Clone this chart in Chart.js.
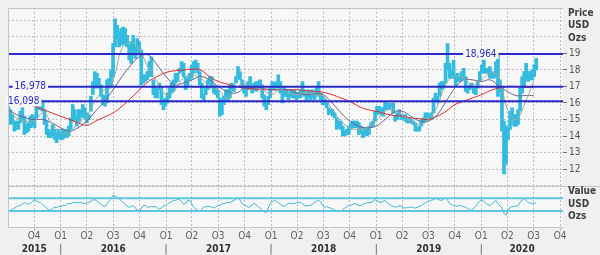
<!DOCTYPE html>
<html>
<head>
<meta charset="utf-8">
<script src="https://cdn.jsdelivr.net/npm/chart.js@4.4.0/dist/chart.umd.min.js"></script>
<style>
  html, body { margin: 0; padding: 0; background: #f0f0f0; }
  #wrap { width: 600px; height: 255px; }
</style>
</head>
<body>
<div id="wrap"><canvas id="silver" width="600" height="255"></canvas></div>
<script>
// weekly silver price, USD per ounce (week ending Friday)
const firstWeek = '2015-07-03';
const weekLow = [
  15.3, 14.7, 14.8, 14.3, 14.4, 14.4, 14.8, 15.0, 14.1, 14.2, 14.3, 14.5, 14.6,
  14.5, 15.1, 15.6, 15.6, 15.5, 14.7, 14.1, 13.9, 13.9, 14.0, 13.8, 13.6, 13.9,
  13.8, 13.8, 13.9, 13.9, 14.0, 14.4, 14.9, 15.0, 14.6, 14.8, 15.1, 15.2, 15.1,
  14.8, 15.0, 15.5, 16.5, 16.9, 17.0, 16.9, 16.4, 15.9, 15.8, 16.0, 16.9, 17.0,
  17.6, 19.4, 19.9, 19.4, 19.5, 19.6, 19.5, 19.4, 18.6, 18.4, 19.0, 18.7, 19.1,
  18.9, 17.1, 17.2, 17.3, 17.4, 17.6, 17.6, 16.5, 16.3, 16.3, 16.8, 15.9, 15.6,
  15.8, 16.0, 16.3, 16.6, 16.7, 17.2, 17.3, 17.8, 17.9, 17.6, 16.8, 17.0, 17.4,
  17.5, 17.8, 18.0, 17.8, 17.1, 16.3, 16.1, 16.5, 16.8, 17.2, 16.9, 16.6, 16.5,
  16.3, 15.2, 15.3, 15.9, 16.3, 16.1, 16.3, 16.8, 16.7, 17.2, 17.5, 17.4, 16.9,
  16.6, 16.4, 16.8, 16.9, 16.6, 16.8, 16.7, 16.9, 17.0, 16.3, 15.8, 15.6, 15.9,
  16.3, 16.9, 16.8, 16.9, 17.1, 16.6, 16.0, 16.4, 16.4, 16.2, 16.4, 16.3, 16.3,
  16.2, 16.3, 16.3, 16.6, 16.4, 16.1, 16.3, 16.2, 16.3, 16.2, 16.4, 16.5, 16.2,
  15.9, 15.9, 15.7, 15.3, 15.4, 15.2, 15.1, 14.4, 14.5, 14.4, 14.0, 14.0, 14.1,
  14.1, 14.4, 14.5, 14.5, 14.5, 14.1, 14.2, 13.9, 14.1, 14.0, 14.1, 14.5, 14.6,
  14.9, 15.3, 15.5, 15.3, 15.2, 15.6, 15.7, 15.6, 15.8, 15.4, 14.9, 15.0, 15.3,
  15.0, 15.0, 14.9, 14.8, 14.8, 14.8, 14.7, 14.3, 14.3, 14.3, 14.6, 14.8, 14.9,
  15.1, 15.0, 15.1, 15.4, 16.1, 16.0, 16.4, 16.8, 16.9, 17.2, 18.0, 17.5, 17.5,
  17.5, 17.0, 17.3, 17.3, 17.4, 17.5, 16.7, 16.6, 16.8, 16.9, 16.6, 16.5, 16.9,
  17.3, 17.8, 17.8, 17.8, 17.8, 17.5, 17.5, 17.5, 17.6, 16.4, 16.7, 14.3, 11.7,
  12.3, 13.8, 14.4, 15.0, 14.6, 14.6, 14.7, 15.5, 16.6, 17.0, 17.4, 17.3, 17.4,
  17.4, 17.6, 18.0
];
const weekHigh = [
  15.8, 15.6, 15.3, 14.9, 14.9, 14.9, 15.5, 15.7, 15.2, 14.7, 14.8, 15.2, 15.3,
  15.2, 15.9, 16.3, 16.2, 16.1, 15.6, 14.9, 14.4, 14.3, 14.7, 14.4, 14.2, 14.4,
  14.2, 14.4, 14.4, 14.3, 14.6, 15.1, 15.9, 15.6, 15.2, 15.6, 15.6, 15.9, 15.7,
  15.4, 15.3, 16.4, 17.3, 17.9, 17.8, 17.5, 17.1, 16.5, 16.4, 17.4, 17.5, 18.0,
  19.6, 21.1, 20.7, 20.3, 20.5, 20.6, 20.5, 20.1, 19.5, 19.7, 20.1, 19.4, 19.9,
  19.7, 19.2, 17.7, 17.7, 17.9, 18.5, 18.8, 17.4, 16.9, 16.9, 17.2, 17.0, 16.2,
  16.3, 16.6, 16.9, 17.2, 17.4, 17.8, 17.8, 18.1, 18.5, 18.4, 17.6, 17.5, 17.8,
  18.3, 18.5, 18.6, 18.4, 17.9, 17.2, 16.5, 17.0, 17.4, 17.6, 17.6, 17.1, 16.9,
  16.8, 16.3, 16.0, 16.4, 16.8, 16.8, 17.1, 17.2, 17.1, 17.6, 18.2, 17.9, 17.4,
  17.1, 16.9, 17.3, 17.6, 17.1, 17.2, 17.3, 17.3, 17.4, 17.1, 16.5, 16.0, 16.4,
  16.9, 17.3, 17.2, 17.3, 17.7, 17.3, 16.8, 17.0, 16.8, 16.6, 16.8, 16.7, 16.8,
  16.6, 16.6, 16.8, 17.3, 16.8, 16.6, 16.8, 16.6, 16.8, 16.6, 16.9, 17.3, 16.6,
  16.4, 16.2, 16.0, 15.7, 15.6, 15.6, 15.4, 15.1, 14.9, 14.9, 14.6, 14.3, 14.4,
  14.6, 14.8, 14.9, 14.9, 14.9, 14.8, 14.6, 14.3, 14.5, 14.4, 14.6, 14.8, 14.9,
  15.5, 15.8, 15.8, 15.7, 15.7, 16.1, 16.0, 15.9, 16.0, 16.0, 15.2, 15.4, 15.6,
  15.3, 15.2, 15.3, 15.0, 15.1, 15.0, 14.9, 14.8, 14.5, 14.6, 15.0, 15.1, 15.4,
  15.4, 15.3, 15.4, 16.3, 16.6, 16.4, 17.2, 17.3, 17.3, 18.4, 19.6, 18.4, 18.0,
  18.6, 17.7, 17.8, 17.6, 17.9, 18.1, 17.6, 17.0, 17.1, 17.2, 17.0, 17.0, 17.3,
  17.9, 18.3, 18.6, 18.1, 18.1, 18.2, 17.9, 17.7, 18.5, 18.9, 17.4, 17.0, 14.9,
  14.6, 14.5, 15.5, 15.7, 15.3, 15.3, 15.6, 16.9, 17.6, 17.9, 18.4, 17.9, 17.9,
  18.0, 18.3, 18.7
];

// lower panel indicator, one value per week
const oscValue = [
  40, 42, 44, 47, 50, 52, 53, 57, 60, 58, 56, 58, 63, 67, 64, 61, 60, 55, 51, 47,
  43, 42, 46, 49, 48, 51, 50, 53, 53, 55, 58, 57, 60, 60, 59, 60, 61, 58, 58, 59,
  60, 63, 66, 67, 63, 60, 56, 52, 51, 57, 63, 70, 77, 75, 72, 70, 64, 60, 56, 51,
  49, 51, 53, 47, 43, 40, 46, 53, 53, 50, 49, 51, 50, 51, 47, 44, 48, 52, 53, 57,
  60, 62, 65, 65, 67, 67, 62, 56, 58, 65, 65, 57, 49, 45, 42, 40, 44, 49, 50, 51,
  51, 49, 47, 50, 53, 53, 56, 58, 59, 60, 60, 63, 65, 68, 72, 66, 58, 55, 52, 49,
  50, 54, 58, 55, 51, 47, 42, 38, 37, 47, 58, 62, 65, 63, 59, 56, 53, 51, 55, 58,
  58, 57, 58, 59, 60, 60, 57, 53, 52, 53, 53, 57, 60, 63, 65, 62, 53, 49, 50, 48,
  47, 45, 42, 41, 40, 40, 44, 47, 50, 53, 53, 56, 58, 55, 53, 53, 56, 58, 59, 60,
  60, 63, 67, 64, 61, 60, 63, 65, 60, 56, 53, 51, 49, 50, 53, 51, 48, 47, 48, 49,
  49, 48, 47, 49, 51, 53, 56, 60, 62, 63, 65, 67, 70, 68, 66, 65, 68, 72, 65, 58,
  55, 53, 51, 52, 53, 52, 50, 49, 46, 43, 42, 47, 51, 58, 64, 67, 62, 58, 55, 53,
  57, 61, 65, 58, 52, 47, 35, 30, 40, 49, 50, 51, 52, 53, 60, 66, 70, 65, 60, 59,
  58, 58, 60
];

// moving averages, value on the first day of each month from July 2015
const firstMonth = [2015, 6];
const maSlow = [
  16.4, 16.2, 16.0, 15.8, 15.6, 15.4,
  15.2, 15.0, 14.8, 14.65, 14.9, 15.15, 15.4, 15.8, 16.3, 16.8, 17.3, 17.6,
  17.85, 17.95, 18.0, 18.05, 18.0, 17.6, 17.3, 17.15, 17.0, 16.9, 16.85, 16.8,
  16.8, 16.8, 16.8, 16.8, 16.75, 16.7, 16.65, 16.5, 16.3, 16.1, 15.8, 15.6,
  15.5, 15.35, 15.25, 15.2, 15.1, 15.05, 15.0, 15.2, 15.5, 15.9, 16.1, 16.3,
  16.5, 16.75, 16.9, 17.0, 17.0, 16.95, 16.95
];
const maMid = [
  15.6, 15.3, 15.1, 15.0, 15.0, 14.8,
  14.5, 14.3, 14.5, 14.9, 15.5, 16.1, 16.8, 17.6, 18.3, 18.8, 18.9, 18.3,
  17.6, 17.1, 17.2, 17.4, 17.6, 17.4, 17.0, 16.7, 16.6, 16.9, 17.0, 16.9,
  16.8, 16.8, 16.8, 16.6, 16.5, 16.55, 16.5, 16.0, 15.4, 14.9, 14.6, 14.5,
  14.6, 15.0, 15.4, 15.5, 15.2, 14.9, 14.9, 15.3, 16.1, 16.9, 17.4, 17.4,
  17.3, 17.4, 17.05, 16.7, 16.45, 16.45, 16.45
];
const maFast = [
  15.6, 15.1, 14.9, 14.9, 15.4, 14.8,
  14.2, 14.2, 14.8, 15.2, 16.2, 16.8, 17.4, 19.3, 19.7, 19.2, 18.1, 17.3,
  16.5, 16.8, 17.5, 17.7, 17.5, 17.0, 16.8, 16.3, 16.9, 17.2, 17.0, 16.8,
  16.5, 16.8, 16.6, 16.5, 16.6, 16.5, 16.4, 15.6, 14.9, 14.5, 14.4, 14.5,
  14.9, 15.5, 15.6, 15.3, 14.9, 14.7, 15.0, 15.8, 17.2, 17.6, 17.5, 17.1,
  17.4, 17.8, 17.6, 15.6, 15.0, 16.0, 17.3
];

const priceLevels = [18.964, 16.978, 16.098];
const levelText = ['18,964', '16,978', '16,098'];
const oscLevels = [70, 40];
const quarterNames = ['Q1', 'Q2', 'Q3', 'Q4'];
const yearNames = ['2015', '2016', '2017', '2018', '2019', '2020'];
const priceTicks = [12, 13, 14, 15, 16, 17, 18, 19];
const priceUnit = ['Price', 'USD', 'Ozs'];
const oscUnit = ['Value', 'USD', 'Ozs'];

const DAY = 86400000;
const dayOf = s => Date.parse(s + 'T00:00:00Z') / DAY;
const dayUTC = (y, m, d) => Date.UTC(y, m, d) / DAY;
const xMin = dayOf('2015-07-02');
const xMax = dayOf('2020-10-11');

const FONT = '"DejaVu Sans Condensed", "DejaVu Sans", sans-serif';
Chart.defaults.font.family = FONT;
Chart.defaults.font.size = 10;

const priceData = weekLow.map((lo, i) => ({ x: dayOf(firstWeek) + 7 * i, y: [lo, weekHigh[i]] }));
const oscData = oscValue.map((v, i) => ({ x: dayOf(firstWeek) + 7 * i, y: v }));
const monthly = arr => arr.map((v, i) => ({ x: dayUTC(firstMonth[0], firstMonth[1] + i, 1), y: v }));

// quarter ticks and year ticks
const quarterTicks = [];
const yearTicks = [];
yearNames.forEach(name => {
  const y = +name;
  for (let q = 0; q < 4; q++) {
    const d = dayUTC(y, q * 3, 1);
    if (d >= xMin && d <= xMax) quarterTicks.push({ value: d, label: quarterNames[q] });
  }
  const start = Math.max(dayUTC(y, 0, 1), xMin);
  const end = Math.min(dayUTC(y + 1, 0, 1), xMax);
  yearTicks.push({ value: (start + end) / 2, label: name });
  if (dayUTC(y, 0, 1) > xMin) yearTicks.push({ value: dayUTC(y, 0, 1), label: '|' });
});
yearTicks.sort((a, b) => a.value - b.value);

const flatLine = v => [{ x: xMin, y: v }, { x: xMax, y: v }];
const noPad = s => { s.paddingLeft = 0; s.paddingRight = 0; };

const PLOT_BG = '#f8f8f8';
const LEVEL_BLUE = '#2a2ac8';
const CYAN = '#33bbe0';

const frame = {
  id: 'frame',
  beforeDraw(chart) {
    const { ctx, chartArea: a } = chart;
    ctx.save();
    ctx.fillStyle = '#f0f0f0';
    ctx.fillRect(0, 0, chart.width, chart.height);
    ctx.fillStyle = PLOT_BG;
    ctx.fillRect(a.left, a.top, a.right - a.left, a.bottom - a.top);
    ctx.restore();
  },
  afterDatasetsDraw(chart) {
    const { ctx, scales } = chart;
    const anchors = [dayOf('2019-11-06'), dayOf('2015-07-25'), xMin];
    ctx.save();
    ctx.font = '10px ' + FONT;
    ctx.textBaseline = 'middle';
    priceLevels.forEach((v, i) => {
      const y = scales.y.getPixelForValue(v);
      const x = scales.x.getPixelForValue(anchors[i]);
      const w = ctx.measureText(levelText[i]).width;
      ctx.fillStyle = PLOT_BG;
      ctx.fillRect(x - 2, y - 5, w + 4, 10);
      ctx.fillStyle = LEVEL_BLUE;
      ctx.fillText(levelText[i], x, y);
    });
    ctx.restore();
  },
  afterDraw(chart) {
    const { ctx, chartArea: a, scales } = chart;
    ctx.save();
    ctx.strokeStyle = '#c4c4c4';
    ctx.lineWidth = 1;
    ctx.beginPath();
    ctx.moveTo(a.right, a.top + 0.5);
    ctx.lineTo(a.left + 0.5, a.top + 0.5);
    ctx.lineTo(a.left + 0.5, a.bottom - 0.5);
    ctx.lineTo(a.right, a.bottom - 0.5);
    const sep = Math.round(scales.y.bottom) + 0.5;
    ctx.moveTo(a.left, sep);
    ctx.lineTo(chart.width, sep);
    ctx.stroke();
    ctx.fillStyle = '#404040';
    ctx.font = 'bold 10px ' + FONT;
    ctx.textBaseline = 'middle';
    priceUnit.forEach((t, i) => ctx.fillText(t, a.right + 5, scales.y.top + 5 + i * 12.5));
    oscUnit.forEach((t, i) => ctx.fillText(t, a.right + 5, scales.y2.top + 6 + i * 12.5));
    ctx.restore();
  }
};

new Chart(document.getElementById('silver'), {
  type: 'bar',
  data: {
    datasets: [
      ...priceLevels.map(v => ({
        type: 'line', data: flatLine(v), yAxisID: 'y', order: 0,
        borderColor: LEVEL_BLUE, borderWidth: 2, pointRadius: 0
      })),
      { type: 'line', data: monthly(maFast), yAxisID: 'y', order: 1,
        borderColor: '#98aa9c', borderWidth: 1, pointRadius: 0, tension: 0.4 },
      { type: 'line', data: monthly(maMid), yAxisID: 'y', order: 1,
        borderColor: '#6c6490', borderWidth: 1, pointRadius: 0, tension: 0.4 },
      { type: 'line', data: monthly(maSlow), yAxisID: 'y', order: 1,
        borderColor: '#e02828', borderWidth: 1, pointRadius: 0, tension: 0.4 },
      { type: 'bar', data: priceData, yAxisID: 'y', order: 2,
        backgroundColor: CYAN, borderWidth: 0, barThickness: 3 },
      ...oscLevels.map(v => ({
        type: 'line', data: flatLine(v), yAxisID: 'y2', order: 3,
        borderColor: '#5cc6e6', borderWidth: 2, pointRadius: 0
      })),
      { type: 'line', data: oscData, yAxisID: 'y2', order: 3,
        borderColor: '#3cb6da', borderWidth: 1, pointRadius: 0 }
    ]
  },
  options: {
    responsive: false,
    devicePixelRatio: 1,
    animation: false,
    events: [],
    layout: { padding: { left: 8, top: 5, right: 0, bottom: 0 } },
    plugins: { legend: { display: false }, tooltip: { enabled: false } },
    scales: {
      x: {
        type: 'linear', position: 'bottom', min: xMin, max: xMax, offset: false,
        afterBuildTicks: s => { s.ticks = quarterTicks.map(t => ({ value: t.value })); },
        afterFit: s => { s.height = 11; noPad(s); },
        ticks: {
          autoSkip: false, maxRotation: 0, padding: -1, color: '#606060',
          callback: v => (quarterTicks.find(t => t.value === v) || {}).label || ''
        },
        grid: { offset: false, color: '#bdbdbd', tickLength: 3, tickColor: '#bdbdbd' },
        border: { display: false, dash: [2, 2] }
      },
      xYear: {
        type: 'linear', position: 'bottom', min: xMin, max: xMax, offset: false,
        afterBuildTicks: s => { s.ticks = yearTicks.map(t => ({ value: t.value })); },
        afterFit: s => { s.height = 16; noPad(s); },
        ticks: {
          autoSkip: false, maxRotation: 0, padding: -4,
          color: c => (yearTicks[c.index] && yearTicks[c.index].label === '|') ? '#505050' : '#303030',
          font: c => ({ weight: (yearTicks[c.index] && yearTicks[c.index].label === '|') ? 'normal' : 'bold', size: 10 }),
          callback: (v, i) => yearTicks[i] ? yearTicks[i].label : ''
        },
        grid: { display: false, offset: false },
        border: { display: false }
      },
      y: {
        type: 'linear', position: 'right', stack: 'panels', stackWeight: 180,
        min: 11, max: 21.75,
        afterBuildTicks: s => {
          const t = [];
          for (let v = 11; v <= 21; v++) t.push({ value: v });
          s.ticks = t;
        },
        afterFit: s => { s.width = 37; },
        ticks: {
          autoSkip: false, color: '#555', padding: 2,
          callback: v => priceTicks.includes(v) ? String(v) : ''
        },
        grid: {
          color: '#bdbdbd', tickLength: 4,
          tickColor: c => priceTicks.includes(c.tick && c.tick.value) ? '#707070' : 'rgba(0,0,0,0)'
        },
        border: { display: false, dash: [2, 2] }
      },
      y2: {
        type: 'linear', position: 'right', stack: 'panels', stackWeight: 43,
        min: 0, max: 100,
        afterFit: s => { s.width = 37; },
        ticks: { display: false },
        grid: { display: false },
        border: { display: false }
      }
    }
  },
  plugins: [frame]
});
</script>
</body>
</html>
